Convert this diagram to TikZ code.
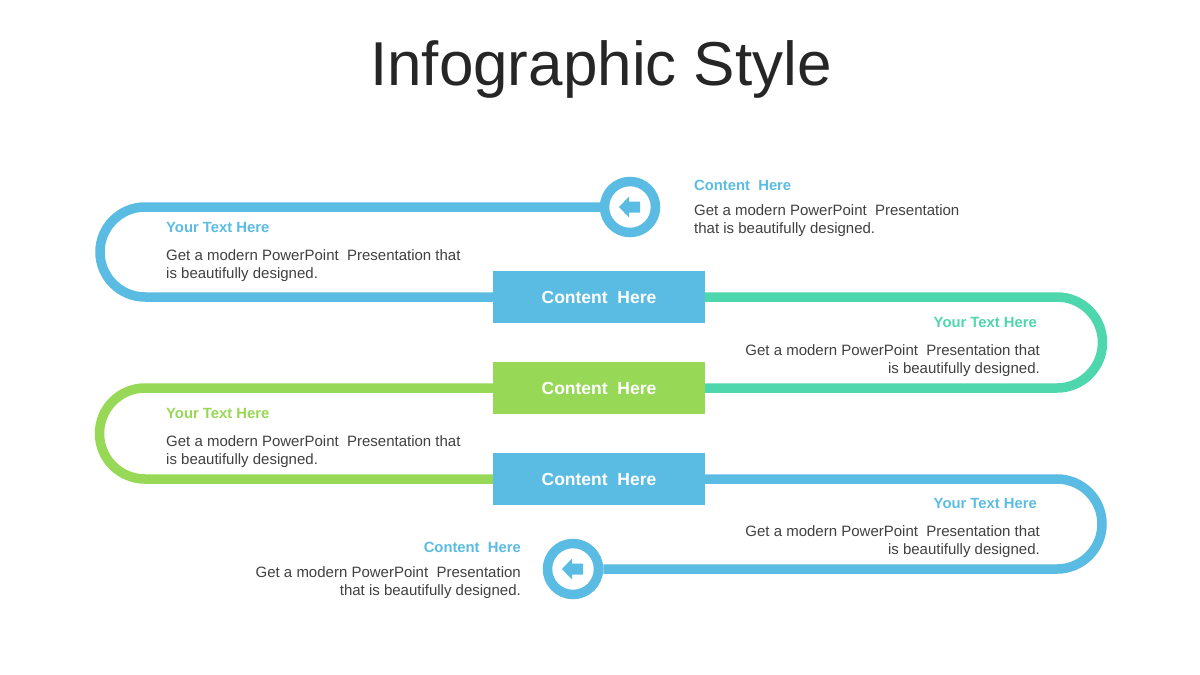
\documentclass[tikz,border=0pt]{standalone}
\usepackage{fontspec}
\setmainfont{Liberation Sans}
\usetikzlibrary{positioning}
\definecolor{cblue}{RGB}{91,188,227}
\definecolor{cteal}{RGB}{78,214,172}
\definecolor{cgreen}{RGB}{151,216,86}
\definecolor{cgray}{RGB}{64,64,64}
\definecolor{ctitle}{RGB}{38,38,38}
\tikzset{
  box/.style={rectangle, minimum width=212pt, minimum height=52pt, inner sep=0pt, text=white, font=\fontsize{17.5}{20}\selectfont\bfseries},
  ring/.style={circle, draw=cblue, line width=9.5pt, fill=white, minimum size=51pt, inner sep=0pt},
  track/.style={line width=9.5pt},
  head/.style={inner sep=0pt, font=\fontsize{14.8}{18}\selectfont\bfseries},
  body/.style={inner sep=0pt, text=cgray, font=\fontsize{15}{18}\selectfont},
}
\begin{document}
\begin{tikzpicture}[x=1pt, y=-1pt]
\useasboundingbox (0,0) rectangle (1200,675);

% Title
\node[font=\fontsize{62}{70}\selectfont, text=ctitle] (title) at (601,69) {Infographic Style};

% Rings and boxes
\node[ring] (c1) at (630,207) {};
\node[box, fill=cblue] (b1) at (599,297) {Content~ Here};
\node[box, fill=cgreen] (b2) at (599,388) {Content~ Here};
\node[box, fill=cblue] (b3) at (599,479) {Content~ Here};
\node[ring] (c2) at (573,569) {};

% Arrows in rings
\foreach \c in {c1,c2} {
  \fill[cblue, shift={(\c)}] (-11,0) -- (-1,-10.5) -- (-1,-5.5) -- (10,-5.5) -- (10,5.5) -- (-1,5.5) -- (-1,10.5) -- cycle;
}

% Track
\draw[track, cblue] (c1.west) -- (145,207) arc[start angle=270, end angle=90, radius=45] -- (b1.west);
\draw[track, cteal] (b1.east) -- (1057,297) arc[start angle=-90, end angle=90, radius=45.5] -- (b2.east);
\draw[track, cgreen] (b2.west) -- (145,388) arc[start angle=270, end angle=90, radius=45.5] -- (b3.west);
\draw[track, cblue] (b3.east) -- (1057,479) arc[start angle=-90, end angle=90, radius=45] -- (c2.east);

% Texts
\node[head, text=cblue, anchor=base west] (h1) at (694,190) {Content~ Here};
\node[body, anchor=base west, align=left] (t1) at (694,233) {Get a modern PowerPoint~ Presentation\\that is beautifully designed.};

\node[head, text=cblue, anchor=base west] (h2) at (166,232) {Your Text Here};
\node[body, anchor=base west, align=left] (t2) at (166,278) {Get a modern PowerPoint~ Presentation that\\is beautifully designed.};

\node[head, text=cteal, anchor=base east] (h3) at (1037,327) {Your Text Here};
\node[body, anchor=base east, align=right] (t3) at (1040,373) {Get a modern PowerPoint~ Presentation that\\is beautifully designed.};

\node[head, text=cgreen, anchor=base west] (h4) at (166,418) {Your Text Here};
\node[body, anchor=base west, align=left] (t4) at (166,464) {Get a modern PowerPoint~ Presentation that\\is beautifully designed.};

\node[head, text=cblue, anchor=base east] (h5) at (1037,508) {Your Text Here};
\node[body, anchor=base east, align=right] (t5) at (1040,554) {Get a modern PowerPoint~ Presentation that\\is beautifully designed.};

\node[head, text=cblue, anchor=base east] (h6) at (521,552) {Content~ Here};
\node[body, anchor=base east, align=right] (t6) at (521,595) {Get a modern PowerPoint~ Presentation\\that is beautifully designed.};

\end{tikzpicture}
\end{document}
